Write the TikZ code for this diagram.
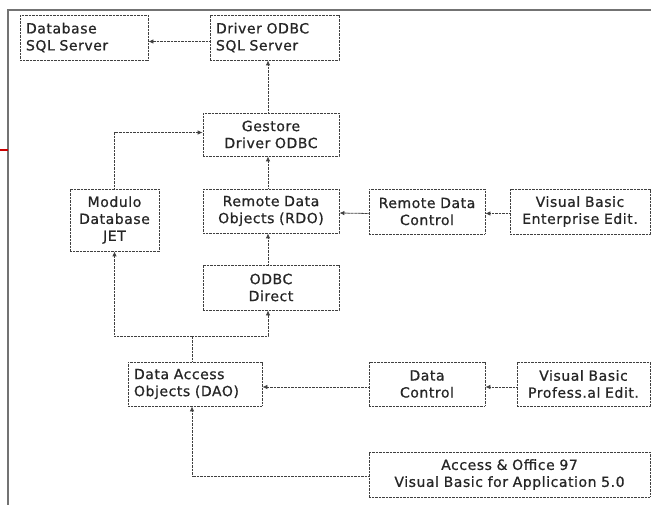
\documentclass[tikz,border=0pt]{standalone}
\usepackage{fontspec}
\setmainfont{DejaVu Sans}[LetterSpace=4,FakeBold=0.8]
\usetikzlibrary{arrows.meta,calc,positioning}
\newcommand{\pxu}{1pt}
\colorlet{inkgray}{black!85}
\colorlet{framegray}{black!75}
\tikzset{
    boxsty/.style={draw=framegray,dash pattern=on 1pt off 0.4pt,line width=0.8pt,rectangle,inner xsep=6pt,inner ysep=0pt,text=inkgray,font=\fontsize{14}{17}\selectfont,anchor=center},
    lboxsty/.style={boxsty,align=left},
    cboxsty/.style={boxsty,align=center},
    linksty/.style={draw=framegray,dash pattern=on 1pt off 0.4pt,line width=0.8pt},
    bordsty/.style={draw=black!55,line width=1.2pt},
}

\begin{document}
\begin{tikzpicture}[>={Latex[length=5pt,width=4.5pt]}]
\useasboundingbox (0,0) rectangle (651*\pxu,-505*\pxu);

% page frame
\draw [bordsty] (8*\pxu,-505*\pxu) -- (8*\pxu,-10*\pxu) -- (651*\pxu,-10*\pxu);
\draw [red!80!black, line width=1.5pt] (0,-150*\pxu) -- (8*\pxu,-150*\pxu);

% top row
\node (dbsql) [lboxsty, text width=116pt, minimum height=45pt] at (84*\pxu, -37.5*\pxu) {Database\\SQL Server};
\node (drvsql) [lboxsty, text width=117pt, minimum height=45pt] at (274.5*\pxu, -37.5*\pxu) {Driver ODBC\\SQL Server};
\node (gestore) [cboxsty, text width=124pt, minimum height=43pt] at (271*\pxu, -134.5*\pxu) {Gestore\\Driver ODBC};

% remote data row
\node (jet) [cboxsty, text width=77pt, minimum height=62pt] at (114.5*\pxu, -220*\pxu) {Modulo\\Database\\JET};
\node (rdo) [cboxsty, text width=124pt, minimum height=44pt] at (271*\pxu, -211*\pxu) {Remote Data\\Objects (RDO)};
\node (rdc) [cboxsty, text width=104pt, minimum height=45pt] at (427*\pxu, -211.5*\pxu) {Remote Data\\Control};
\node (vbent) [cboxsty, text width=128pt, minimum height=45pt] at (580*\pxu, -211.5*\pxu) {Visual Basic\\Enterprise Edit.};
\node (odbcdir) [cboxsty, text width=124pt, minimum height=45pt] at (271*\pxu, -287.5*\pxu) {ODBC\\Direct};

% data access row
\node (dao) [lboxsty, text width=122pt, minimum height=44pt] at (195*\pxu, -384*\pxu) {Data Access\\Objects (DAO)};
\node (dctl) [cboxsty, text width=104pt, minimum height=44pt] at (427*\pxu, -384*\pxu) {Data\\Control};
\node (vbpro) [cboxsty, text width=121pt, minimum height=44pt] at (583.5*\pxu, -384*\pxu) {Visual Basic\\Profess.al Edit.};
\node (vba) [cboxsty, text width=269pt, minimum height=45pt] at (509.5*\pxu, -474.5*\pxu) {Access \& Office 97\\Visual Basic for Application 5.0};

\coordinate (colR) at (268*\pxu, 0);
\coordinate (split) at (192*\pxu, -336*\pxu);

% connectors
\draw [linksty, ->] ([yshift=-4*\pxu]drvsql.west) -- ([yshift=-4*\pxu]dbsql.east);
\draw [linksty, ->] (gestore.north -| colR) -- (drvsql.south -| colR);
\draw [linksty, ->] (jet.north) |- ([yshift=2*\pxu]gestore.west);
\draw [linksty, ->] (rdo.north -| colR) -- (gestore.south -| colR);
\draw [linksty, ->] ([yshift=-2*\pxu]rdc.west) -- ([yshift=-2*\pxu]rdo.east);
\draw [linksty, ->] ([yshift=-2*\pxu]vbent.west) -- ([yshift=-2*\pxu]rdc.east);
\draw [linksty, ->] (odbcdir.north -| colR) -- (rdo.south -| colR);
\draw [linksty] (dao.north -| split) -- (split);
\draw [linksty, ->] (split) -| (jet.south);
\draw [linksty, ->] (split) -| (odbcdir.south -| colR);
\draw [linksty, ->] ([yshift=-3*\pxu]dctl.west) -- ([yshift=-3*\pxu]dao.east);
\draw [linksty, ->] ([yshift=-3*\pxu]vbpro.west) -- ([yshift=-3*\pxu]dctl.east);
\draw [linksty, ->] ([yshift=-2*\pxu]vba.west) -| (dao.south -| split);

\end{tikzpicture}
\end{document}
